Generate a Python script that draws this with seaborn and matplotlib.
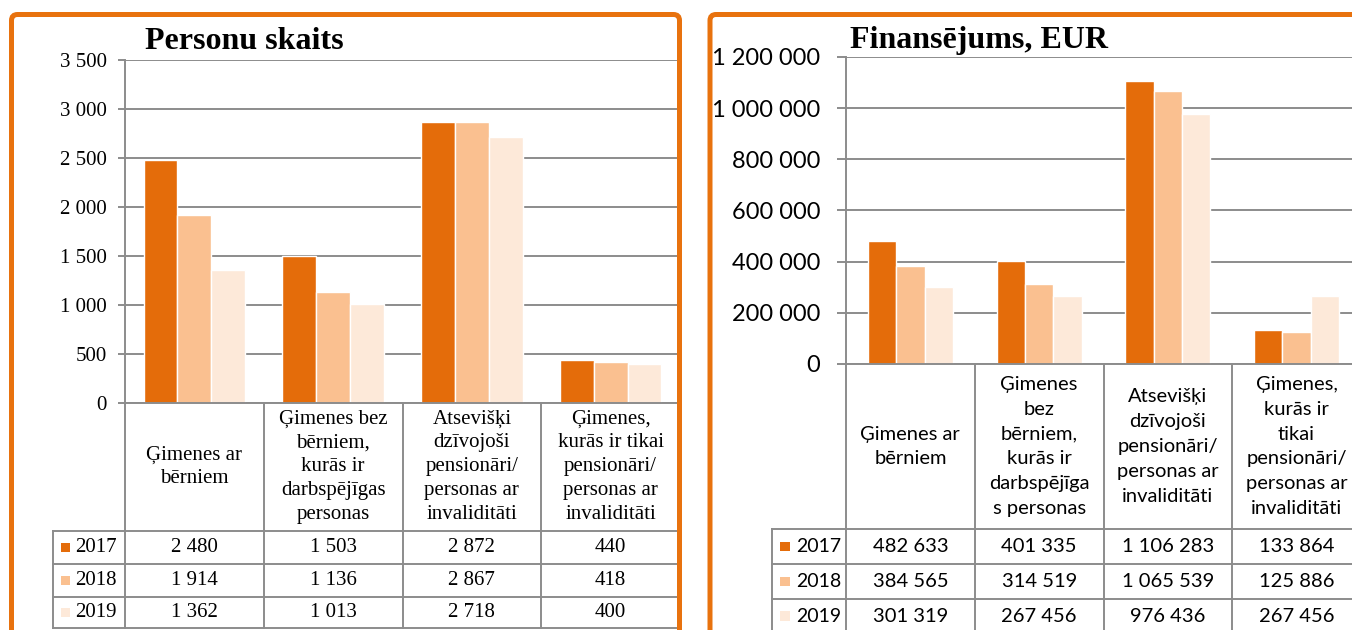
import matplotlib
matplotlib.use("Agg")
import matplotlib.pyplot as plt
import seaborn as sns
import pandas as pd
from matplotlib.patches import FancyBboxPatch, Rectangle
from matplotlib.transforms import IdentityTransform

W, H = 1352, 630

# ---------------- data ----------------
categories = [
    "Ģimenes ar bērniem",
    "Ģimenes bez bērniem, kurās ir darbspējīgas personas",
    "Atsevišķi dzīvojoši pensionāri/personas ar invaliditāti",
    "Ģimenes, kurās ir tikai pensionāri/personas ar invaliditāti",
]
years = ["2017", "2018", "2019"]

persons_2017 = [2480, 1503, 2872, 440]
persons_2018 = [1914, 1136, 2867, 418]
persons_2019 = [1362, 1013, 2718, 400]

funding_2017 = [482633, 401335, 1106283, 133864]
funding_2018 = [384565, 314519, 1065539, 125886]
funding_2019 = [301319, 267456, 976436, 267456]

persons_headers = [
    "Ģimenes ar\nbērniem",
    "Ģimenes bez\nbērniem,\nkurās ir\ndarbspējīgas\npersonas",
    "Atsevišķi\ndzīvojoši\npensionāri/\npersonas ar\ninvaliditāti",
    "Ģimenes,\nkurās ir tikai\npensionāri/\npersonas ar\ninvaliditāti",
]
funding_headers = [
    "Ģimenes ar\nbērniem",
    "Ģimenes\nbez\nbērniem,\nkurās ir\ndarbspējīga\ns personas",
    "Atsevišķi\ndzīvojoši\npensionāri/\npersonas ar\ninvaliditāti",
    "Ģimenes,\nkurās ir\ntikai\npensionāri/\npersonas ar\ninvaliditāti",
]
persons_ticks = [0, 500, 1000, 1500, 2000, 2500, 3000, 3500]
funding_ticks = [0, 200000, 400000, 600000, 800000, 1000000, 1200000]

persons_title = "Personu skaits"
funding_title = "Finansējums, EUR"

year_colors = ["#E46C0A", "#FAC090", "#FDE9D9"]
BORDER = "#E8720E"
GRID = "#8C8C8C"


def fmt(v):
    return f"{v:,}".replace(",", " ")


def long_df(series):
    rows = []
    for y, vals in zip(years, series):
        for c, v in zip(categories, vals):
            rows.append({"category": c, "year": y, "value": v})
    return pd.DataFrame(rows)


def fr(x, y, w, h):
    return [x / W, 1 - (y + h) / H, w / W, h / H]


fig = plt.figure(figsize=(W / 100, H / 100), dpi=100)
fig.patch.set_facecolor("white")


def draw_panel(series, headers, ticks, title, spec):
    x0, y0, pw, ph = spec["ax_px"]
    ax = fig.add_axes(fr(x0, y0, pw, ph))
    df = long_df(series)
    sns.barplot(data=df, x="category", y="value", hue="year", order=categories,
                hue_order=years, palette=year_colors, saturation=1,
                width=spec["group_width"], gap=0, edgecolor="white",
                linewidth=1.0, legend=False, ax=ax)
    ax.set_xlim(-0.5, 3.5)
    ax.set_ylim(0, ticks[-1])
    ax.set_xlabel("")
    ax.set_ylabel("")
    ax.set_xticks([])
    ax.set_yticks(ticks)
    ax.set_yticklabels([fmt(t) for t in ticks], fontfamily=spec["font"],
                       fontsize=spec["tick_size"], color="black")
    ax.tick_params(axis="y", length=spec["tick_len"], width=1.4, color=GRID,
                   pad=spec["tick_pad"])
    ax.set_axisbelow(True)
    ax.yaxis.grid(True, color=GRID, linewidth=1.4)
    for s in ["top", "right"]:
        ax.spines[s].set_visible(False)
    for s in ["left", "bottom"]:
        ax.spines[s].set_color(GRID)
        ax.spines[s].set_linewidth(1.4)
    ax.patch.set_alpha(0)

    # ----- data table below -----
    zero_y = y0 + ph
    right = x0 + pw
    tl = spec["table_left"]
    rows = spec["row_lines"]
    tax = fig.add_axes(fr(tl, zero_y, right - tl, H - zero_y))
    tax.set_xlim(tl, right)
    tax.set_ylim(H, zero_y)
    tax.axis("off")
    colw = pw / len(categories)
    bottom = min(rows[-1], H + 5)
    lk = dict(color=GRID, linewidth=1.4, clip_on=False, solid_capstyle="projecting")
    tax.plot([x0, x0], [zero_y, bottom], **lk)
    for k in range(1, len(categories) + 1):
        xx = x0 + k * colw
        tax.plot([xx, xx], [zero_y, bottom], **lk)
    tax.plot([tl, tl], [rows[0], bottom], **lk)
    for yy in rows:
        tax.plot([tl, right], [yy, yy], **lk)

    hy = (zero_y + rows[0]) / 2
    for i, lab in enumerate(headers):
        tax.text(x0 + (i + 0.5) * colw, hy, lab, ha="center", va="center",
                 multialignment="center", fontfamily=spec["font"],
                 fontsize=spec["table_size"], linespacing=spec["linespacing"])
    for r, (y, vals) in enumerate(zip(years, series)):
        cy = (rows[r] + rows[r + 1]) / 2
        ks = spec["key_size"]
        tax.add_patch(Rectangle((spec["key_x"], cy - ks / 2), ks, ks,
                                facecolor=year_colors[r], edgecolor="none",
                                clip_on=False))
        tax.text(spec["label_x"], cy, y, ha="left", va="center",
                 fontfamily=spec["font"], fontsize=spec["legend_size"])
        for i, v in enumerate(vals):
            tax.text(x0 + (i + 0.5) * colw, cy, fmt(v), ha="center",
                     va="center", fontfamily=spec["font"],
                     fontsize=spec["table_size"])

    tx, ty = spec["title_xy"]
    fig.text(tx / W, 1 - ty / H, title, ha="left", va="baseline",
             fontfamily="Liberation Serif", fontweight="bold", fontsize=23)

    # orange frame
    bx0, bx1 = spec["border_x"]
    frame = FancyBboxPatch((bx0, H - 700), bx1 - bx0, 700 - 14.5,
                           boxstyle="round,pad=0,rounding_size=6",
                           transform=IdentityTransform(), facecolor="none",
                           edgecolor=BORDER, linewidth=3.6, zorder=50)
    fig.add_artist(frame)


left_spec = dict(ax_px=(125, 60, 555, 343), table_left=53,
                 row_lines=[530.7, 564, 596.7, 628], group_width=0.73,
                 font="Liberation Serif", tick_size=15, table_size=15,
                 legend_size=15,
                 tick_len=5, tick_pad=8, key_x=61, key_size=9, label_x=75,
                 linespacing=1.36, title_xy=(145, 49), border_x=(11.5, 679.5))
right_spec = dict(ax_px=(846, 57, 515, 307), table_left=771.5,
                  row_lines=[529, 564, 598.7, 633.4], group_width=0.66,
                  font="Lato", tick_size=17, table_size=14.5, legend_size=14,
                  tick_len=6.5, tick_pad=12, key_x=780, key_size=9.5,
                  label_x=796, linespacing=1.57, title_xy=(850.5, 48),
                  border_x=(710, 1500))

draw_panel([persons_2017, persons_2018, persons_2019], persons_headers,
           persons_ticks, persons_title, left_spec)
draw_panel([funding_2017, funding_2018, funding_2019], funding_headers,
           funding_ticks, funding_title, right_spec)

fig.savefig("out.png", dpi=100)
